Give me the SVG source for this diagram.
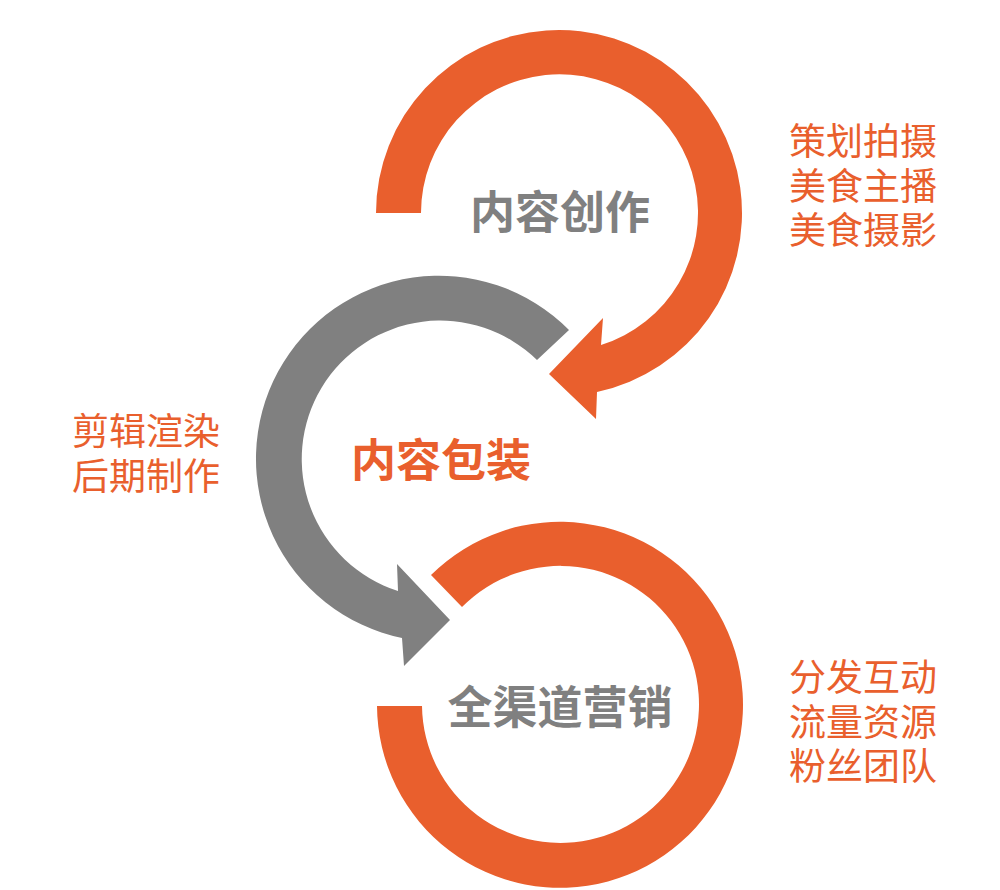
<svg xmlns="http://www.w3.org/2000/svg" width="1000" height="890" viewBox="0 0 1000 890">
<style>
.or{fill:#E95F2D}
.gr{fill:#808080}
.t{font-family:"Noto Sans CJK SC","Noto Sans",sans-serif}
.title{font-size:45px;font-weight:bold;text-anchor:middle}
.lbl{font-size:37px;fill:#E95F2D}
</style>
<rect width="1000" height="890" fill="#FFFFFF"/>
<g id="connectors">
<path id="arc-top" class="or" d="M376,213 A183,183 0 1 1 597,392 L596,419 L549,374 L603,318 L601,345 A138.5,138.5 0 1 0 421,213 Z"/>
<path id="arc-mid" class="gr" d="M569,330 A183,183 0 1 0 402,638 L404,666 L450,620 L397,564 L398,591 A138.5,138.5 0 1 1 537,360 Z"/>
<path id="arc-bot" class="or" d="M431,575 A183,183 0 1 1 377,706 L422,706 A138.5,138.5 0 1 0 462,607 Z"/>
</g>
<g id="node-create">
<text class="t title" x="560" y="229" fill="#808080">内容创作</text>
<text class="t lbl" x="789" y="155">策划拍摄</text>
<text class="t lbl" x="789" y="200">美食主播</text>
<text class="t lbl" x="789" y="244">美食摄影</text>
</g>
<g id="node-pack">
<text class="t title" x="441" y="477" fill="#E95F2D">内容包装</text>
<text class="t lbl" x="72" y="445">剪辑渲染</text>
<text class="t lbl" x="72" y="490">后期制作</text>
</g>
<g id="node-market">
<text class="t title" x="560" y="724" fill="#808080">全渠道营销</text>
<text class="t lbl" x="789" y="691">分发互动</text>
<text class="t lbl" x="789" y="736">流量资源</text>
<text class="t lbl" x="789" y="780">粉丝团队</text>
</g>
</svg>
